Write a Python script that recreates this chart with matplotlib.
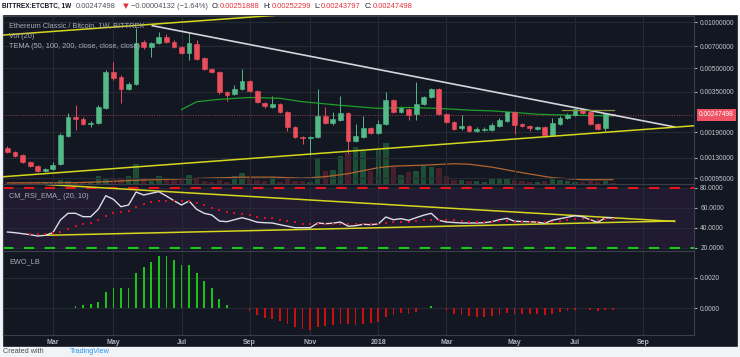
import numpy as np
import pandas as pd
import matplotlib
matplotlib.use('Agg')
import matplotlib.pyplot as plt
from matplotlib.patches import Rectangle
from matplotlib.ticker import FixedLocator, NullLocator, FuncFormatter

W, H, DPI = 740, 357, 100

# ---------------- data ----------------
dates = pd.date_range('2017-01-23', periods=81, freq='7D')

open_ = [0.001494, 0.001406, 0.001344, 0.001208, 0.001137, 0.001055, 0.001087, 0.001172, 0.001792, 0.002389,
         0.002317, 0.002148, 0.002181, 0.002737, 0.004724, 0.004379, 0.00365, 0.003938, 0.007444, 0.006901,
         0.007332, 0.008031, 0.007444, 0.006901, 0.006301, 0.007222, 0.005841, 0.004944, 0.004724, 0.003489,
         0.003385, 0.00365, 0.004121, 0.003542, 0.002953, 0.002779, 0.002908, 0.002577, 0.002053, 0.001765,
         0.001738, 0.001765, 0.002425, 0.002181, 0.002283, 0.002538, 0.001661, 0.001765, 0.002022, 0.001875,
         0.002148, 0.00309, 0.002577, 0.002696, 0.0025, 0.002908, 0.003234, 0.00365, 0.0025, 0.002214,
         0.002022, 0.002084, 0.001933, 0.001963, 0.001963, 0.002084, 0.002248, 0.002577, 0.002148, 0.002084,
         0.001991, 0.002053, 0.001819, 0.002148, 0.002353, 0.002462, 0.002696, 0.002577, 0.002148, 0.002022,
         0.00251888]
high = [0.00154, 0.001428, 0.001364, 0.001227, 0.001155, 0.001104, 0.001208, 0.001875, 0.002538, 0.002864,
        0.002389, 0.002248, 0.002864, 0.004869, 0.005497, 0.004514, 0.004059, 0.009207, 0.007673, 0.007444,
        0.008663, 0.008405, 0.007673, 0.007006, 0.008533, 0.007673, 0.00593, 0.005019, 0.004796, 0.003542,
        0.003878, 0.004944, 0.004184, 0.003596, 0.002998, 0.003284, 0.002953, 0.002616, 0.002084, 0.001792,
        0.001792, 0.00365, 0.002779, 0.002577, 0.003284, 0.002577, 0.002148, 0.002425, 0.002053, 0.002283,
        0.003489, 0.003138, 0.002821, 0.002737, 0.004059, 0.003284, 0.003706, 0.003706, 0.002538, 0.002248,
        0.002462, 0.002116, 0.002053, 0.002053, 0.002181, 0.002353, 0.002616, 0.002616, 0.002181, 0.002116,
        0.002084, 0.002084, 0.002353, 0.002425, 0.002538, 0.002737, 0.002737, 0.002616, 0.002181, 0.00255,
        0.00252299]
low = [0.001385, 0.001303, 0.0012, 0.00112, 0.001039, 0.001039, 0.001071, 0.001155, 0.001765, 0.001963,
       0.002116, 0.002053, 0.002148, 0.002696, 0.004184, 0.002953, 0.003596, 0.003878, 0.006695, 0.00593,
       0.007222, 0.007332, 0.006797, 0.006206, 0.005666, 0.005666, 0.004869, 0.004653, 0.003385, 0.003044,
       0.003334, 0.003596, 0.003489, 0.002953, 0.002737, 0.002737, 0.002538, 0.001933, 0.001738, 0.001587,
       0.001344, 0.001738, 0.002148, 0.002116, 0.002248, 0.001385, 0.001636, 0.001738, 0.001847, 0.001847,
       0.002116, 0.002538, 0.002538, 0.002283, 0.002283, 0.002864, 0.003186, 0.002462, 0.002181, 0.001963,
       0.001963, 0.001904, 0.001904, 0.001933, 0.001933, 0.002053, 0.002214, 0.001847, 0.002053, 0.001933,
       0.001963, 0.001792, 0.001792, 0.002116, 0.002317, 0.002425, 0.0025, 0.002116, 0.001963, 0.001933,
       0.00243797]
close = [0.001406, 0.001323, 0.001208, 0.001137, 0.001055, 0.001087, 0.001155, 0.001819, 0.002389, 0.002317,
         0.002148, 0.002181, 0.002779, 0.004724, 0.004313, 0.00365, 0.003938, 0.007332, 0.006901, 0.007332,
         0.008031, 0.007444, 0.006901, 0.006301, 0.007332, 0.005753, 0.004944, 0.004724, 0.003489, 0.003334,
         0.00365, 0.004121, 0.003542, 0.002998, 0.002821, 0.002908, 0.002577, 0.002053, 0.001765, 0.001738,
         0.001765, 0.002425, 0.002181, 0.002317, 0.002538, 0.001661, 0.001792, 0.002022, 0.001875, 0.002148,
         0.00309, 0.002577, 0.002737, 0.002462, 0.002908, 0.003234, 0.00365, 0.0025, 0.002214, 0.001991,
         0.002084, 0.001933, 0.001991, 0.001991, 0.002116, 0.002283, 0.002577, 0.002116, 0.002084, 0.002022,
         0.002053, 0.001819, 0.002181, 0.002353, 0.002462, 0.002696, 0.002538, 0.002148, 0.001991, 0.00252,
         0.00247498]
volume = [1, 1, 1.5, 1.5, 2, 2, 2, 3.5, 3, 2, 2, 2, 8, 6, 5, 5, 7.5, 20, 5, 3,
          8, 5, 4, 4, 9, 5, 3, 2, 4, 2, 8, 11, 5, 3.5, 3, 6.5, 2, 4.5, 3, 3,
          2, 25, 13, 14, 28, 30.5, 37, 32.5, 12.5, 34, 40.5, 16.5, 9, 11.5, 13, 18, 16.5, 15.5, 8, 4,
          4, 3, 3, 2, 5, 6, 6, 4, 3, 2, 2, 3, 6, 4, 3, 2, 2, 3, 2, 2.5, 1]
# sampled indicator lines (bar index -> value)
tema_idx = [23, 25, 28, 32, 36, 39, 44, 49, 53, 57, 61, 64, 66, 70, 75, 80]
tema_val = [0.00268, 0.00302, 0.00313, 0.00322, 0.00318, 0.00302, 0.00286, 0.00273, 0.00277, 0.00273,
            0.00266, 0.00263, 0.00259, 0.0025, 0.00246, 0.00244]
volma_idx = [0, 9, 13, 17, 22, 26, 31, 35, 39, 42, 45, 47, 49, 51, 55, 59, 61, 64, 68, 72, 76, 80]
volma_val = [0.8, 1, 2, 3.5, 4.5, 5.5, 6.5, 6.6, 5.5, 7, 10, 13, 16, 17.6, 18.5, 20, 19.5, 16.6, 11, 6, 4, 4]

rsi = [35.7, 35, 34, 33, 31.7, 32.4, 35, 47.7, 54.4, 54.4, 51, 51, 58.4, 72, 68.4, 61, 62.7, 75.7, 72.7, 74.4,
       76, 71.7, 67, 62.7, 66.7, 58.4, 54.4, 52.7, 46.7, 46, 48, 50, 48, 45.5, 45, 44.7, 43, 41.5, 40, 40,
       40, 44.7, 44, 44.5, 45.7, 41.5, 42, 43.4, 43, 43.7, 50.7, 48, 49, 47.4, 50, 52.5, 54.4, 47.4, 45.7, 45.2,
       44.7, 44.7, 44.7, 45, 46, 48, 49.4, 46.4, 46.2, 46, 45.5, 44.4, 47.5, 49, 50.5, 52, 51, 48, 45.4, 50, 50]
rsi_ema = [np.nan, np.nan, np.nan, 33.7, 33.7, 33.7, 34.4, 35.7, 39, 42, 43.7, 45, 47.4, 51.7, 55, 56, 57, 61, 63.4, 65.4,
           66.7, 66.7, 67, 66.7, 66.7, 64.7, 62.4, 60, 58, 55.7, 54.5, 53.7, 52.7, 51, 50, 49.4, 48, 46.7, 45.4, 44,
           43.4, 43.7, 43.4, 44, 44, 43.7, 43.4, 43.4, 43.4, 44, 44.7, 45.4, 46, 46, 46.7, 47.4, 48, 48, 48, 47.7,
           46.7, 46, 45.4, 45.4, 45.7, 46.4, 46.7, 46, 45.7, 45.4, 45.4, 45.4, 46, 46.7, 47.4, 48.7, 48.7, 48, 48, 48.7, 48.7]
ewo = [np.nan] * 9 + [0.00013, 0.0002, 0.00025, 0.00042, 0.00107, 0.00133, 0.0013, 0.00133, 0.00229, 0.00271, 0.00302,
       0.0034, 0.0034, 0.00318, 0.0028, 0.0028, 0.00233, 0.00176, 0.0013, 0.00062, 0.0002, 0.0, 0.0,
       -0.00018, -0.00042, -0.00062, -0.00073, -0.00084, -0.00104, -0.00124, -0.00138, -0.0014, -0.00122,
       -0.00113, -0.00107, -0.00102, -0.00102, -0.00107, -0.001, -0.00098, -0.00089, -0.00056, -0.00045,
       -0.00033, -0.00036, -0.00022, 0.0, 0.00017, 0.00002, -0.00018, -0.0004, -0.00045, -0.00053, -0.00058,
       -0.00058, -0.00053, -0.00045, -0.00031, -0.00036, -0.0004, -0.00038, -0.0004, -0.00047, -0.00038,
       -0.00025, -0.00018, -0.00011, 0.00003, -0.0001, -0.00018, -0.0001, -0.00008]

# drawings (anchor points)
yel_main_up_d = ['2017-01-19', '2017-10-20']; yel_main_up_p = [0.00827, 0.01144]
yel_main_lo_d = ['2017-01-19', '2018-10-20']; yel_main_lo_p = [0.000972, 0.0021]
white_d = ['2017-06-06', '2018-10-02']; white_p = [0.00953, 0.002063]
olive_d = ['2018-06-20', '2018-08-07']; olive_p = [0.00268, 0.00268]
rsi_up_d = ['2017-02-28', '2018-10-02']; rsi_up_v = [83.2, 46.3]
rsi_lo_d = ['2017-02-28', '2018-10-02']; rsi_lo_v = [32.4, 46.7]

price_ticks = [0.01, 0.007, 0.005, 0.0035, 0.0019, 0.0013, 0.00095]
rsi_ticks = [80, 60, 40, 20]
ewo_ticks = [0.002, 0.0]
month_labels = ['Mar', 'May', 'Jul', 'Sep', 'Nov', '2018', 'Mar', 'May', 'Jul', 'Sep']
month_dates = ['2017-03-06', '2017-05-01', '2017-07-03', '2017-09-04', '2017-10-30',
               '2018-01-01', '2018-03-05', '2018-05-07', '2018-07-02', '2018-09-03']

# ---------------- style ----------------
BG = '#131722'
GRID = '#262a35'
SEP = '#3a3e4a'
TXT = '#a9acb5'
UP = '#53b987'
DN = '#eb4d5c'
plt.rcParams['font.family'] = ['Liberation Sans', 'DejaVu Sans']

fig = plt.figure(figsize=(W / DPI, H / DPI), dpi=DPI, facecolor='#f1f3f6')

def fbox(x0, y0, x1, y1):
    return [x0 / W, 1 - y1 / H, (x1 - x0) / W, (y1 - y0) / H]

fig.patches.append(Rectangle((0, 1 - 15 / H), 1, 15 / H, transform=fig.transFigure,
                             facecolor='white', edgecolor='none', zorder=-5))
fig.patches.append(Rectangle((3 / W, 1 - 346 / H), 734 / W, 331 / H, transform=fig.transFigure,
                             facecolor=BG, edgecolor='#2a2e39', lw=0.6, zorder=-4))

ax = fig.add_axes(fbox(3, 16, 694, 183.7))
ax_r = fig.add_axes(fbox(3, 183.7, 694, 251), sharex=ax)
ax_e = fig.add_axes(fbox(3, 251, 694, 335), sharex=ax)
axv = ax.twinx()

xl = (dates[0] - pd.Timedelta(days=4.1), dates[0] + pd.Timedelta(days=635))
mticks = pd.to_datetime(month_dates)

for a in (ax, ax_r, ax_e):
    a.set_facecolor(BG)
    for s in a.spines.values():
        s.set_color(SEP)
        s.set_linewidth(0.8)
    a.grid(True, color=GRID, lw=0.8)
    a.set_axisbelow(True)
    a.yaxis.tick_right()
    a.tick_params(axis='y', which='both', length=2, pad=2.5, labelsize=4.8, colors=TXT, labelcolor='#c4c6cd')

# ---------- main panel ----------
o = np.array(open_); c = np.array(close); h = np.array(high); l = np.array(low)
up = c >= o
cols = np.where(up, UP, DN)
axv.bar(dates, volume, width=5.0, color=np.where(up, '#1d4d34', '#4a1e2a'), zorder=1)
axv.plot(dates[volma_idx], volma_val, color='#b3652f', lw=0.9, zorder=2)
axv.set_ylim(0, max(volume) * 167.7 / 40.5)
axv.set_yticks([])
for s in axv.spines.values():
    s.set_visible(False)
ax.set_zorder(axv.get_zorder() + 1)
axv.patch.set_visible(True)
axv.patch.set_facecolor(BG)
ax.set_facecolor('none')

ax.set_yscale('log')
ax.set_ylim(0.000875, 0.01103)
ax.yaxis.set_major_locator(FixedLocator(price_ticks))
ax.yaxis.set_minor_locator(NullLocator())
ax.yaxis.set_major_formatter(FuncFormatter(lambda v, p: f'{v:.8f}'))

ax.vlines(dates, l, h, colors=cols, lw=0.7, zorder=3)
ax.bar(dates, np.abs(c - o), bottom=np.minimum(o, c), width=4.4, color=cols,
       edgecolor=cols, linewidth=0.4, zorder=4)
ax.plot(dates[tema_idx], tema_val, color='#1f9e2a', lw=0.9, zorder=3)
ax.axhline(close[-1], color='#9c3c4c', lw=0.7, ls=(0, (1, 1.5)), zorder=2)
ax.plot(pd.to_datetime(white_d), white_p, color='#d4d4dc', lw=1.2, zorder=5)
ax.plot(pd.to_datetime(yel_main_up_d), yel_main_up_p, color='#d6d61e', lw=1.1, zorder=5)
ax.plot(pd.to_datetime(yel_main_lo_d), yel_main_lo_p, color='#d6d61e', lw=1.1, zorder=5)
ax.plot(pd.to_datetime(olive_d), olive_p, color='#8f8f35', lw=0.9, zorder=5)
ax.annotate(f'{close[-1]:.8f}', xy=(1, close[-1]), xycoords=('axes fraction', 'data'),
            xytext=(3.6, 0), textcoords='offset points', va='center', ha='left',
            fontsize=4.8, color='white', annotation_clip=False,
            bbox=dict(boxstyle='square,pad=0.35', fc='#ef5363', ec='none'), zorder=10)

# ---------- RSI panel ----------
ax_r.set_ylim(16.7, 84)
ax_r.axhspan(20, 80, color='#201b30', zorder=0, lw=0)
ax_r.yaxis.set_major_locator(FixedLocator(rsi_ticks))
ax_r.yaxis.set_major_formatter(FuncFormatter(lambda v, p: f'{v:.4f}'))
ax_r.axhline(80, color='#e8141e', lw=1.5, ls=(0, (5, 5)), zorder=2)
ax_r.axhline(20, color='#19c819', lw=1.5, ls=(0, (5, 5)), zorder=2)
ax_r.plot(pd.to_datetime(rsi_up_d), rsi_up_v, color='#d6d61e', lw=1.1, zorder=3)
ax_r.plot(pd.to_datetime(rsi_lo_d), rsi_lo_v, color='#d6d61e', lw=1.1, zorder=3)
ax_r.plot(dates, rsi, color='#dcdce4', lw=1.0, zorder=4)
ax_r.plot(dates, rsi_ema, ls='none', marker='s', ms=1.5, color='#d8121c', mew=0, zorder=4)

# ---------- EWO panel ----------
ev = np.array(ewo)
ax_e.set_ylim(-0.001745, 0.003745)
ax_e.yaxis.set_major_locator(FixedLocator(ewo_ticks))
ax_e.yaxis.set_major_formatter(FuncFormatter(lambda v, p: f'{v:.4f}'))
ax_e.bar(dates, ev, width=1.6, color=np.where(ev >= 0, '#18c418', '#cc0f0f'), zorder=3)

for a in (ax, ax_r, ax_e):
    a.set_xticks(mticks)
    a.tick_params(axis='x', labelbottom=False, length=0)
ax_e.set_xticklabels(month_labels)
ax_e.tick_params(axis='x', labelbottom=True, length=0, pad=3, labelsize=5, labelcolor='#b2b5be')
for t in ax_e.get_xticklabels():
    t.set_fontweight('bold')
for a in (ax, ax_r, ax_e, axv):
    a.set_xlim(*xl)

# ---------- texts ----------
def ftxt(px, py, s, **kw):
    fig.text(px / W, 1 - py / H, s, va='center', ha='left', **kw)

ftxt(9, 25.5, 'Ethereum Classic / Bitcoin, 1W, BITTREX', fontsize=5.3, color=TXT)
ftxt(9, 36, 'Vol (20)', fontsize=5.3, color=TXT)
ftxt(9, 47, 'TEMA (50, 100, 200, close, close, close)', fontsize=5.3, color=TXT)
ftxt(9, 197, 'CM_RSI_EMA_ (20, 10)', fontsize=5.3, color=TXT)
ftxt(9, 262, 'EWO_LB', fontsize=5.3, color=TXT)

HF = 5.4
ftxt(2, 6.5, 'BITTREX:ETCBTC, 1W', fontsize=4.7, color='#131722', fontweight='bold')
ftxt(76, 6.5, '0.00247498', fontsize=HF, color='#50535e')
ftxt(123, 6.5, '\u25bc', fontsize=HF, color='#e0303d', family='DejaVu Sans')
ftxt(131, 6.5, '\u22120.00004132 (\u22121.64%)', fontsize=HF, color='#50535e')
for px0, lab, px1, val in [(212, 'O:', 220, '0.00251888'), (263, 'H:', 272, '0.00252299'),
                           (314, 'L:', 321, '0.00243797'), (365, 'C:', 373, '0.00247498')]:
    ftxt(px0, 6.5, lab, fontsize=HF, color='#131722')
    ftxt(px1, 6.5, val, fontsize=HF, color='#e0303d')

ftxt(3, 351.5, 'Created with', fontsize=5.2, color='#4a4d57')
ftxt(70, 351.5, 'TradingView', fontsize=5.2, color='#2196f3')

fig.savefig('out.png', dpi=DPI, facecolor=fig.get_facecolor())
